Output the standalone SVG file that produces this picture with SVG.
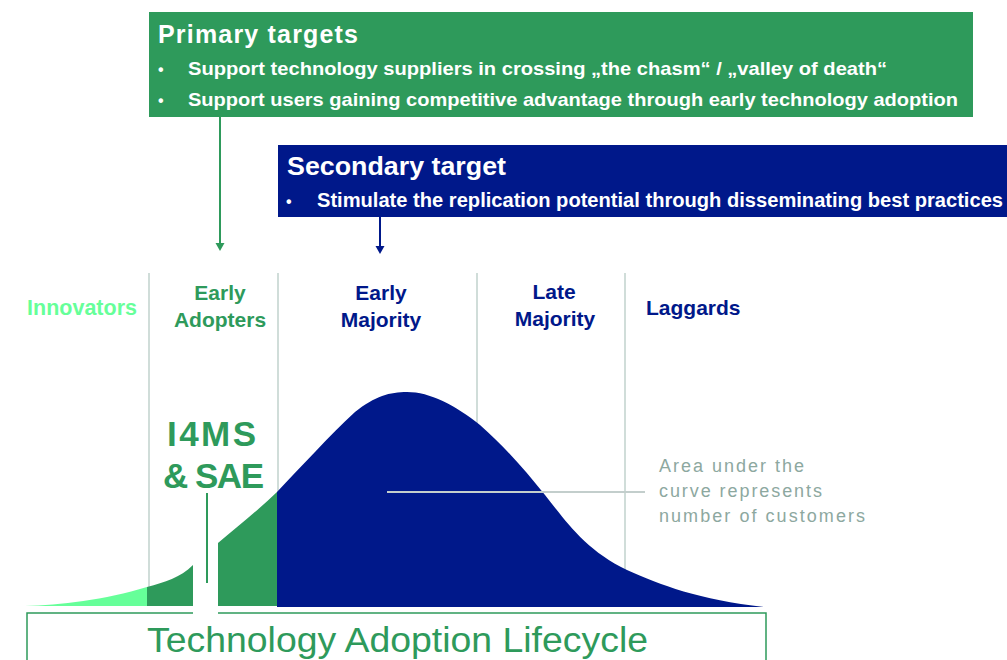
<svg xmlns="http://www.w3.org/2000/svg" width="1007" height="660" viewBox="0 0 1007 660">
<defs>
<style>
.b{font-family:"Liberation Sans",Arial,sans-serif;font-weight:bold}
.r{font-family:"Liberation Sans",Arial,sans-serif}
.w{fill:#ffffff}
.g{fill:#2E9A5B}
.n{fill:#00188A}
.lg{fill:#66FF99}
.grid{stroke:#D0DDD9;stroke-width:2;fill:none}
.ann{fill:#8DA89F}
</style>
</defs>
<rect width="1007" height="660" fill="#ffffff"/>

<g id="grid-lines">
<line class="grid" x1="149" y1="273" x2="149" y2="605"/>
<line class="grid" x1="278" y1="273" x2="278" y2="605"/>
<line class="grid" x1="477" y1="273" x2="477" y2="605"/>
<line class="grid" x1="625" y1="273" x2="625" y2="605"/>
</g>

<g id="primary-targets">
<rect x="149" y="12" width="824" height="105" fill="#2E9A5B"/>
<text class="b w" x="158" y="43" font-size="25" textLength="200">Primary targets</text>
<text class="b w" x="158" y="75" font-size="16">•</text>
<text class="b w" x="188" y="75" font-size="19" textLength="699" lengthAdjust="spacingAndGlyphs">Support technology suppliers in crossing „the chasm“ /  „valley of death“</text>
<text class="b w" x="158" y="106" font-size="16">•</text>
<text class="b w" x="188" y="106" font-size="19" textLength="770" lengthAdjust="spacingAndGlyphs">Support users gaining competitive advantage through early technology adoption</text>
</g>

<g id="secondary-target">
<rect x="278" y="145" width="729" height="72" fill="#00188A"/>
<text class="b w" x="287" y="175" font-size="25" textLength="219" lengthAdjust="spacingAndGlyphs">Secondary target</text>
<text class="b w" x="286" y="207" font-size="16">•</text>
<text class="b w" x="317" y="207" font-size="19.5" textLength="686" lengthAdjust="spacingAndGlyphs">Stimulate the replication potential through disseminating best practices</text>
</g>

<g id="connectors">
<line x1="220" y1="117" x2="220" y2="245" stroke="#2E9A5B" stroke-width="2"/>
<polygon points="215.5,243 224.5,243 220,251" fill="#2E9A5B"/>
<line x1="380" y1="217" x2="380" y2="248" stroke="#00188A" stroke-width="2"/>
<polygon points="375.5,246 384.5,246 380,254" fill="#00188A"/>
</g>

<g id="labels">
<text class="b lg" x="82" y="315" font-size="21.5" text-anchor="middle">Innovators</text>
<text class="b g" x="220" y="300" font-size="21" text-anchor="middle">Early</text>
<text class="b g" x="220" y="327" font-size="21" text-anchor="middle">Adopters</text>
<text class="b n" x="381" y="300" font-size="21" text-anchor="middle">Early</text>
<text class="b n" x="381" y="327" font-size="21" text-anchor="middle">Majority</text>
<text class="b n" x="554" y="299" font-size="21" text-anchor="middle">Late</text>
<text class="b n" x="555" y="326" font-size="21" text-anchor="middle">Majority</text>
<text class="b n" x="646" y="315" font-size="21">Laggards</text>
</g>

<g id="curve">
<path d="M25,606 C60,605 105,600 147,587 L147,606 Z" fill="#66FF99"/>
<path d="M147,587 C165,582 180,578 193,565 L193,606 L147,606 Z" fill="#2E9A5B"/>
<path d="M218,543 C240,525 258,510 277,492 L277,606 L218,606 Z" fill="#2E9A5B"/>
<path d="M277,492 C300,468 330,435 355,412 C375,396 390,392 407,392 C430,392 455,405 480,425 C505,447 525,470 545,495 C565,520 585,550 627,570 C660,585 700,600 765,607 L277,607 Z" fill="#00188A"/>
<line x1="387" y1="492" x2="645" y2="492" stroke="#C3CECC" stroke-width="2"/>
<line x1="207" y1="493" x2="207" y2="583" stroke="#2E9A5B" stroke-width="2"/>
</g>

<g id="i4ms">
<text class="b g" x="167" y="446" font-size="35" textLength="89">I4MS</text>
<text class="b g" x="163" y="488" font-size="35" textLength="101">&amp; SAE</text>
</g>

<g id="annotation">
<text class="r ann" x="659" y="472" font-size="18" textLength="145">Area under the</text>
<text class="r ann" x="659" y="497" font-size="18" textLength="163">curve represents</text>
<text class="r ann" x="659" y="522" font-size="18" textLength="206">number of customers</text>
</g>

<g id="lifecycle-box">
<path d="M193,613 H27 V670 M218,613 H766 V670" fill="none" stroke="#2E9A5B" stroke-width="1.5"/>
<text class="r g" x="147" y="652" font-size="35" textLength="501" lengthAdjust="spacingAndGlyphs">Technology Adoption Lifecycle</text>
</g>
</svg>
